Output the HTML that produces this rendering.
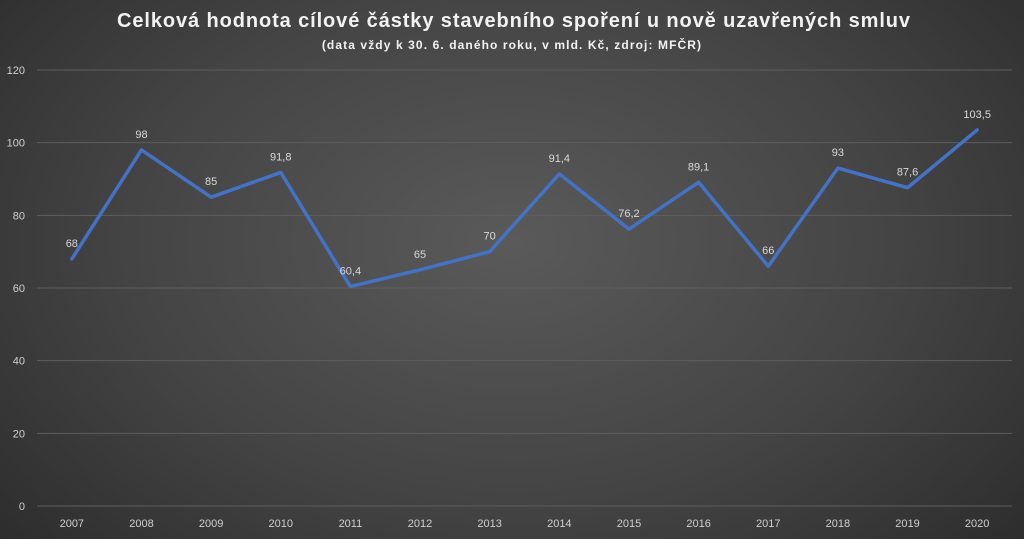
<!DOCTYPE html>
<html><head><meta charset="utf-8"><style>
html,body{margin:0;padding:0;width:1024px;height:539px;overflow:hidden}
body{background:radial-gradient(ellipse 75% 95% at 50% 45%,#5a5a5a 0%,#444 50%,#262626 100%);font-family:"Liberation Sans",sans-serif}
svg{position:absolute;left:0;top:0}
</style></head><body>
<svg id="chart" width="1024" height="539">
<text x="514" y="27" text-anchor="middle" fill="#f2f2f2" font-size="20" font-weight="bold" letter-spacing="0.9" font-family="Liberation Sans, sans-serif">Celková hodnota cílové částky stavebního spoření u nově uzavřených smluv</text>
<text x="512" y="49" text-anchor="middle" fill="#f2f2f2" font-size="12" font-weight="bold" letter-spacing="1.1" font-family="Liberation Sans, sans-serif">(data vždy k 30. 6. daného roku, v mld. Kč, zdroj: MFČR)</text>
<g id="grid"></g><g id="xaxis"></g><g id="series"></g>
</svg>
<script>
const categories=["2007","2008","2009","2010","2011","2012","2013","2014","2015","2016","2017","2018","2019","2020"];
const values=[68,98,85,91.8,60.4,65,70,91.4,76.2,89.1,66,93,87.6,103.5];
const labels=["68","98","85","91,8","60,4","65","70","91,4","76,2","89,1","66","93","87,6","103,5"];
const yTicks=[0,20,40,60,80,100,120];
const NS="http://www.w3.org/2000/svg";
const pLeft=37,pRight=1012,pTop=70,pBottom=506,yMax=120;
const band=(pRight-pLeft)/categories.length;
const xs=i=>pLeft+band*(i+0.5);
const ys=v=>pBottom-(v/yMax)*(pBottom-pTop);
function mk(t,a,p){const e=document.createElementNS(NS,t);for(const k in a)e.setAttribute(k,a[k]);p.appendChild(e);return e;}
const grid=document.getElementById('grid');
yTicks.forEach(t=>{
 const l=mk('line',{x1:pLeft,x2:pRight,y1:ys(t),y2:ys(t),stroke:'#5e5e5e','stroke-width':1},grid);
 
 
 const tx=mk('text',{x:25,y:ys(t)+4,'text-anchor':'end',fill:'#d0d0d0','font-size':11},grid);
 tx.textContent=t;
 
 
});
const xa=document.getElementById('xaxis');
categories.forEach((c,i)=>{
 const tx=mk('text',{x:xs(i),y:527,'text-anchor':'middle',fill:'#d0d0d0','font-size':11},xa);
 tx.textContent=c;
 
 
});
const s=document.getElementById('series');
const pl=mk('polyline',{points:values.map((v,i)=>xs(i)+','+ys(v)).join(' '),fill:'none',stroke:'#4472c4','stroke-width':3.5,'stroke-linejoin':'round','stroke-linecap':'round'},s);


values.forEach((v,i)=>{
 const tx=mk('text',{x:xs(i),y:ys(v)-12,'text-anchor':'middle',fill:'#d9d9d9','font-size':11},s);
 tx.textContent=labels[i];
 
 
});
</script>
</body></html>
